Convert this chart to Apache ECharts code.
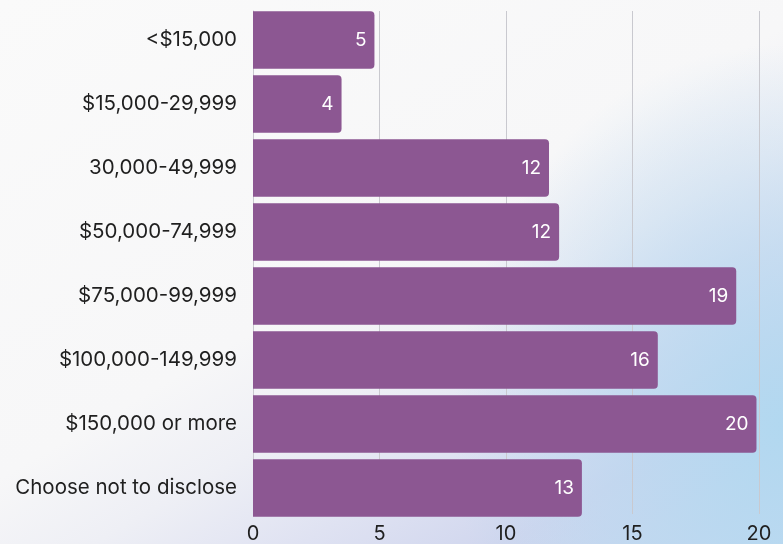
<!DOCTYPE html>
<html>
<head>
<meta charset="utf-8">
<script src="https://cdn.jsdelivr.net/npm/echarts@6/dist/echarts.min.js"></script>
<style>
  html, body { margin: 0; padding: 0; }
  body {
    width: 783px; height: 544px; overflow: hidden;
    background:
      radial-gradient(ellipse 330px 380px at 100% 78%, rgba(176,216,240,0.95) 0%, rgba(184,216,240,0.65) 45%, rgba(200,218,240,0) 100%),
      linear-gradient(150deg, #fafafa 0%, #f7f7f8 48%, #eeeff5 60%, #dfe2f2 72%, #d0d6ee 84%, #c4dbf1 100%);
  }
  #chart { width: 783px; height: 544px; }
</style>
</head>
<body>
<div id="chart"></div>
<script>
  // Household income brackets, top to bottom
  const categories = [
    '<$15,000',
    '$15,000-29,999',
    '30,000-49,999',
    '$50,000-74,999',
    '$75,000-99,999',
    '$100,000-149,999',
    '$150,000 or more',
    'Choose not to disclose'
  ];
  // Share of respondents per bracket
  const values = [4.8, 3.5, 11.7, 12.1, 19.1, 16.0, 19.9, 13.0];
  const xTicks = [0, 5, 10, 15, 20];

  const barColor = '#8c5792';
  const textColor = '#1f1f1f';
  const lineColor = '#c9c9cf';
  const fontFamily = 'Inter, Roboto, sans-serif';

  const chart = echarts.init(document.getElementById('chart'), null, { renderer: 'canvas' });

  chart.setOption({
    backgroundColor: 'transparent',
    animation: false,
    grid: [
      // bars
      { left: 253, right: 24, top: 8, bottom: 24 },
      // grid lines and axis labels
      { left: 253, right: 24, top: 11, bottom: 27 }
    ],
    xAxis: [
      {
        gridIndex: 0, type: 'value', min: xTicks[0], max: xTicks[xTicks.length - 1], interval: 5,
        axisLine: { show: false }, axisTick: { show: false }, axisLabel: { show: false },
        splitLine: { show: false }
      },
      {
        gridIndex: 1, type: 'value', min: xTicks[0], max: xTicks[xTicks.length - 1], interval: 5,
        axisLine: { show: false }, axisTick: { show: false },
        axisLabel: { color: textColor, fontSize: 20, fontFamily: fontFamily, margin: 10 },
        splitLine: { show: true, lineStyle: { color: lineColor, width: 1 } }
      }
    ],
    yAxis: [
      {
        gridIndex: 0, type: 'category', data: categories, inverse: true,
        axisLine: { show: false }, axisTick: { show: false },
        axisLabel: { color: textColor, fontSize: 20.5, fontFamily: fontFamily, margin: 16 }
      },
      {
        gridIndex: 1, type: 'value', min: 0, max: 1,
        axisLine: { show: true, lineStyle: { color: lineColor, width: 1 } },
        axisTick: { show: false }, axisLabel: { show: false }, splitLine: { show: false }
      }
    ],
    series: [
      {
        type: 'bar',
        xAxisIndex: 0, yAxisIndex: 0,
        data: values,
        barCategoryGap: '10.5%',
        itemStyle: { color: barColor, borderRadius: [0, 4, 4, 0] },
        label: {
          show: true,
          position: 'insideRight',
          distance: 8,
          color: '#ffffff',
          fontSize: 19,
          fontFamily: fontFamily,
          formatter: p => String(Math.round(p.value))
        }
      }
    ]
  });
</script>
</body>
</html>
